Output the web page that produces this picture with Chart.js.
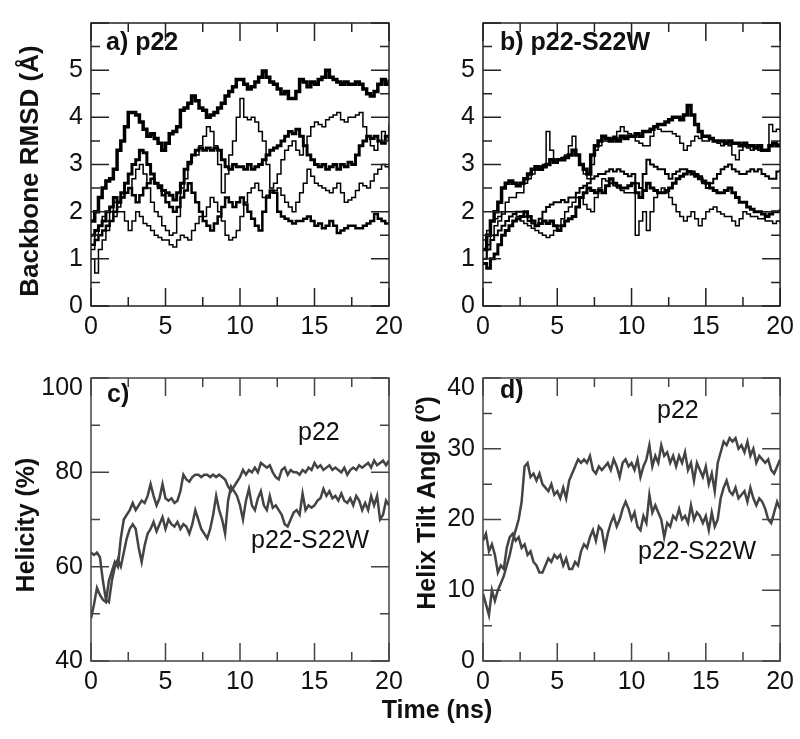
<!DOCTYPE html>
<html>
<head>
<meta charset="utf-8">
<script src="https://cdn.jsdelivr.net/npm/chart.js"></script>
<style>
  body { margin: 0; background: #fff; width: 800px; height: 739px; position: relative; overflow: hidden; }
  canvas { position: absolute; }
  #xtitle { position: absolute; left: 337px; width: 200px; top: 697px; text-align: center;
            font: bold 25px "Liberation Sans", Arial, sans-serif; line-height: 25px; color: #111; }
</style>
</head>
<body>
<canvas id="pa" width="410" height="345" style="left:0;top:0"></canvas>
<canvas id="pb" width="408" height="345" style="left:392px;top:0"></canvas>
<canvas id="pc" width="410" height="345" style="left:0;top:355px"></canvas>
<canvas id="pd" width="408" height="345" style="left:392px;top:355px"></canvas>
<div id="xtitle">Time (ns)</div>
<script>
// RMSD traces sampled every 0.25 ns, helicity / tilt every 0.2 ns
const rmsdStep = 0.25;
const angStep = 0.2;

// a) p22 backbone RMSD (Å), five runs
const rmsdA1 = [1.8, 2.0, 2.3, 2.5, 2.65, 2.7, 2.9, 3.3, 3.5, 3.8, 4.1, 4.1, 4.05, 3.9, 3.75, 3.6,
  3.65, 3.55, 3.45, 3.3, 3.45, 3.65, 3.7, 3.8, 4.15, 4.2, 4.3, 4.45, 4.35, 4.2, 4.15, 4.0,
  4.05, 4.1, 4.2, 4.3, 4.45, 4.55, 4.65, 4.8, 4.8, 4.7, 4.6, 4.65, 4.75, 4.85, 4.98, 4.85,
  4.75, 4.7, 4.6, 4.5, 4.55, 4.4, 4.4, 4.55, 4.8, 4.75, 4.65, 4.75, 4.7, 4.8, 4.85, 5.0,
  4.85, 4.8, 4.75, 4.7, 4.75, 4.7, 4.7, 4.75, 4.7, 4.6, 4.5, 4.45, 4.55, 4.7, 4.8, 4.7, 4.8];
const rmsdA2 = [1.5, 1.6, 1.7, 1.8, 2.0, 2.1, 2.3, 2.2, 2.4, 2.6, 2.8, 3.0, 3.1, 3.3, 3.25, 3.0,
  2.8, 2.6, 2.55, 2.45, 2.4, 2.35, 2.25, 2.4, 2.6, 2.9, 3.05, 3.2, 3.3, 3.35, 3.3, 3.35,
  3.3, 3.35, 3.3, 3.1, 2.95, 2.9, 3.0, 2.95, 2.95, 2.9, 3.0, 2.9, 2.95, 3.0, 3.1, 3.2,
  3.3, 3.35, 3.4, 3.5, 3.6, 3.7, 3.65, 3.75, 3.6, 3.4, 3.2, 3.1, 3.0, 2.95, 3.0, 2.9,
  2.95, 3.0, 2.9, 3.0, 2.95, 3.05, 3.0, 3.2, 3.4, 3.5, 3.6, 3.55, 3.6, 3.5, 3.45, 3.6, 3.5];
const rmsdA3 = [1.2, 1.5, 1.7, 1.9, 1.8, 2.0, 2.2, 2.1, 2.3, 2.4, 2.5, 2.7, 2.9, 3.0, 2.8, 2.5,
  2.2, 2.0, 1.9, 1.7, 1.6, 1.5, 1.55, 1.9, 2.5, 2.7, 3.0, 3.2, 3.2, 3.4, 3.6, 3.8,
  3.7, 3.4, 3.0, 2.4, 2.8, 3.2, 3.5, 4.0, 4.4, 4.0, 3.95, 4.0, 3.9, 3.7, 3.5, 3.0,
  2.5, 2.6, 2.8, 3.1, 3.3, 3.4, 3.5, 3.3, 3.2, 3.4, 3.6, 3.8, 3.9, 3.85, 3.8, 3.95,
  4.0, 4.05, 4.1, 3.95, 3.9, 4.0, 4.0, 4.05, 4.1, 3.8, 3.6, 3.4, 3.3, 3.5, 3.7, 3.6, 3.85];
const rmsdA4 = [1.3, 1.4, 1.5, 1.6, 1.7, 1.8, 2.0, 2.2, 2.3, 2.4, 2.5, 2.35, 2.2, 2.35, 2.5, 2.6,
  2.7, 2.6, 2.5, 2.35, 2.2, 2.1, 2.0, 2.1, 2.3, 2.45, 2.6, 2.4, 2.2, 2.0, 1.8, 1.7,
  1.6, 1.75, 1.9, 2.1, 2.3, 2.2, 2.1, 2.2, 2.3, 2.15, 2.0, 1.85, 1.7, 1.6, 2.0, 2.3,
  2.45, 2.4, 2.0, 1.9, 1.85, 1.8, 1.75, 1.8, 1.8, 1.85, 1.9, 1.8, 1.7, 1.75, 1.65, 1.7,
  1.8, 1.7, 1.55, 1.6, 1.65, 1.7, 1.7, 1.65, 1.65, 1.7, 1.75, 1.8, 1.95, 1.85, 1.8, 1.75, 1.75];
const rmsdA5 = [1.0, 0.7, 1.2, 1.4, 1.6, 1.8, 1.9, 2.0, 2.0, 1.8, 1.6, 1.8, 2.0, 1.9, 1.75, 1.7,
  1.6, 1.5, 1.45, 1.4, 1.4, 1.3, 1.25, 1.4, 1.5, 1.45, 1.4, 1.6, 1.75, 1.9, 1.9, 2.1,
  2.3, 2.2, 2.0, 1.8, 1.5, 1.4, 1.45, 1.6, 1.9, 2.2, 2.4, 2.5, 2.6, 2.45, 2.3, 2.35,
  2.4, 2.45, 2.5, 2.35, 2.2, 2.1, 2.0, 2.2, 2.4, 2.6, 2.9, 2.75, 2.6, 2.55, 2.5, 2.45,
  2.4, 2.5, 2.6, 2.4, 2.2, 2.25, 2.3, 2.45, 2.6, 2.55, 2.5, 2.65, 2.8, 2.9, 3.0, 2.95, 2.9];

// b) p22-S22W backbone RMSD (Å), five runs
const rmsdB1 = [1.2, 1.5, 1.8, 2.0, 2.2, 2.5, 2.6, 2.65, 2.6, 2.55, 2.6, 2.7, 2.8, 2.9, 2.95, 2.9,
  2.95, 3.0, 3.1, 3.05, 3.1, 3.1, 3.15, 3.2, 3.3, 3.2, 3.0, 2.9, 2.8, 3.2, 3.4, 3.5,
  3.6, 3.55, 3.5, 3.55, 3.5, 3.6, 3.55, 3.6, 3.6, 3.65, 3.6, 3.7, 3.7, 3.75, 3.8, 3.85,
  3.85, 3.9, 3.95, 4.0, 4.0, 3.95, 4.05, 4.25, 4.05, 3.85, 3.7, 3.6, 3.6, 3.55, 3.5, 3.5,
  3.5, 3.45, 3.5, 3.45, 3.45, 3.4, 3.45, 3.4, 3.4, 3.35, 3.4, 3.3, 3.3, 3.4, 3.45, 3.4, 3.45];
const rmsdB2 = [1.0, 1.3, 1.5, 1.7, 1.8, 2.0, 2.2, 2.3, 2.3, 2.4, 2.4, 2.6, 2.7, 2.8, 2.9, 2.95,
  3.0, 3.7, 3.3, 3.1, 3.1, 3.15, 3.2, 3.4, 3.6, 3.2, 3.0, 2.8, 2.7, 3.0, 3.3, 3.4,
  3.5, 3.5, 3.55, 3.6, 3.7, 3.8, 3.7, 3.65, 3.6, 3.5, 3.45, 3.4, 3.4, 3.6, 3.8, 3.75,
  3.7, 3.7, 3.7, 3.65, 3.6, 3.45, 3.3, 3.4, 3.5, 3.6, 3.55, 3.5, 3.5, 3.55, 3.5, 3.45,
  3.4, 3.45, 3.4, 3.2, 3.1, 3.3, 3.4, 3.35, 3.3, 3.35, 3.3, 3.3, 3.3, 3.85, 3.7, 3.75, 3.7];
const rmsdB3 = [1.0, 1.2, 1.4, 1.5, 1.6, 1.7, 1.8, 1.9, 1.95, 2.0, 2.0, 1.9, 1.8, 1.75, 1.7, 1.85,
  2.0, 2.1, 2.15, 2.2, 2.2, 2.25, 2.2, 2.3, 2.3, 2.4, 2.5, 2.55, 2.6, 2.7, 2.75, 2.8,
  2.8, 2.85, 2.9, 2.85, 2.9, 2.85, 2.8, 2.75, 2.8, 2.6, 2.5, 2.8, 3.1, 3.0, 2.95, 2.9,
  2.9, 2.8, 2.7, 2.8, 2.85, 2.9, 2.9, 2.85, 2.85, 2.8, 2.75, 2.6, 2.5, 2.6, 2.7, 2.8,
  2.9, 2.95, 3.0, 2.9, 2.85, 2.8, 2.8, 2.85, 2.9, 2.85, 2.9, 2.8, 2.75, 2.7, 2.7, 2.85, 2.9];
const rmsdB4 = [0.9, 0.8, 1.0, 1.1, 1.3, 1.5, 1.6, 1.7, 1.8, 1.85, 1.9, 2.0, 1.9, 1.8, 1.7, 1.75,
  1.8, 1.75, 1.8, 1.7, 1.6, 1.7, 1.8, 1.85, 1.9, 2.1, 2.3, 2.4, 2.5, 2.45, 2.4, 2.45,
  2.4, 2.55, 2.7, 2.6, 2.55, 2.5, 2.5, 2.55, 2.6, 2.4, 2.3, 2.45, 2.6, 2.5, 2.45, 2.4,
  2.4, 2.45, 2.5, 2.6, 2.7, 2.75, 2.8, 2.85, 2.8, 2.75, 2.7, 2.65, 2.6, 2.5, 2.45, 2.4,
  2.4, 2.45, 2.5, 2.4, 2.3, 2.2, 2.2, 2.1, 2.05, 2.0, 2.0, 1.95, 1.9, 1.95, 2.0, 2.0, 2.05];
const rmsdB5 = [1.4, 1.6, 1.8, 1.85, 1.9, 1.95, 2.0, 2.0, 2.0, 1.9, 1.8, 1.75, 1.7, 1.65, 1.6, 1.55,
  1.5, 1.45, 1.5, 1.6, 1.7, 1.85, 2.0, 2.1, 2.2, 2.3, 2.3, 2.15, 2.05, 2.0, 2.3, 2.5,
  2.7, 2.65, 2.6, 2.55, 2.5, 2.45, 2.4, 2.4, 2.4, 1.5, 1.8, 2.0, 1.6, 2.0, 2.3, 2.4,
  2.5, 2.4, 2.3, 2.15, 2.0, 1.9, 1.8, 1.9, 2.0, 1.85, 1.7, 1.85, 2.0, 2.05, 2.1, 2.0,
  1.95, 1.9, 1.9, 1.8, 1.7, 1.85, 2.0, 1.95, 1.9, 1.9, 1.85, 1.85, 1.8, 1.8, 1.75, 1.8, 1.75];

// c) helicity (%)
const helixP22 = [49, 52, 55.5, 54, 53, 52.5, 57, 59, 61, 60, 66, 70, 71, 72, 73.5,
  72, 73, 74, 73.5, 75, 77.5, 75, 73, 74.5, 77.5, 74.5, 74, 74.5, 73.5, 74,
  76, 79.5, 78.5, 78, 79, 79.5, 79.5, 79, 79.5, 79.5, 79, 79.5, 79, 79.5, 79,
  78.5, 77, 76, 77, 78, 79, 80.5, 79.5, 80.5, 80, 81, 80, 82, 81.5, 81,
  81.5, 80, 79, 78.5, 80.5, 81, 79.5, 80.5, 80, 80, 79.5, 80.5, 80, 81, 80.5,
  82, 81, 81.5, 80.5, 81, 81.5, 80.5, 81, 80.5, 80, 81, 79.5, 80.5, 81, 80.5,
  81.5, 81, 81.5, 82, 81, 82.5, 81.5, 82, 82.5, 81.5, 82.5];
const helixS22W = [63, 62.5, 63, 62, 57, 53, 52.5, 57, 60, 61.5, 60, 63, 66, 68, 69,
  68, 64, 61, 64.5, 67, 68, 69.5, 67.5, 69, 70.5, 68, 70, 69, 68.5, 69.5,
  68, 69, 68.5, 67, 69, 72, 70, 68, 67, 66, 68, 71, 75, 72, 70,
  67, 74, 77, 76, 75, 73, 70, 74, 76.5, 73, 72, 74.5, 76, 73, 72,
  75, 72.5, 73, 72, 71, 69, 68.5, 70, 71.5, 72, 71, 75.5, 72, 73, 72.5,
  73, 74, 74.5, 76.5, 75, 76, 74.5, 75, 74, 75.5, 74, 73.5, 74.5, 73, 75,
  74, 72, 73.5, 72, 75, 73, 75, 70, 71, 74, 73];

// d) helix tilt angle (degrees)
const tiltP22 = [9.5, 8, 6.5, 10, 8.5, 10, 11, 12, 13.5, 15, 17, 18.5, 20, 22.5, 27.5,
  28, 26, 26.5, 25.5, 26.5, 25, 24.5, 24, 25, 23.5, 24, 23, 24.5, 23, 25.5,
  26.5, 27.5, 28.5, 28, 28.5, 28, 29, 27, 26.5, 27.5, 27, 27.5, 28, 27, 28.5,
  27.5, 26, 28, 28.5, 27.5, 28, 27, 28.5, 26, 27.5, 28.5, 30.5, 27.5, 29, 28,
  30.5, 29, 29.5, 28, 29, 27.5, 29, 28, 29.5, 27, 28, 25.5, 28, 27, 26,
  27.5, 25, 26.5, 24, 28, 29.5, 31, 30.5, 31.5, 31, 31.5, 30, 30.5, 29.5, 31,
  29, 30, 28, 29, 28.5, 28, 28.5, 27, 26.5, 27.5, 28.5];
const tiltS22W = [17, 18, 15.5, 16.5, 15, 12.5, 13.5, 13, 16, 17.5, 18, 17, 17.5, 16, 16.5,
  15, 15.5, 14, 13.5, 12.5, 12.5, 13.5, 14.5, 14, 15, 14.5, 15, 13.5, 14.5, 13,
  13, 14, 13.5, 15.5, 16.5, 16, 17.5, 18.5, 17, 19, 18.5, 16, 18, 19.5, 20.5,
  19, 20, 21.5, 22.5, 21.5, 20, 21, 19, 18.5, 20.5, 19.5, 23.5, 21, 22, 21,
  20, 17.5, 19.5, 19, 20.5, 20, 21.5, 20, 20.5, 19.5, 22, 20, 21, 20.5, 19.5,
  20.5, 18.5, 21, 19, 20, 23, 24.5, 25.5, 24, 23.5, 24.5, 23, 23.5, 24, 22.5,
  24.5, 23, 22, 23, 22.5, 21.5, 20, 19.5, 21, 22.5, 21.5];

const FONT = '"Liberation Sans", Arial, sans-serif';
const INK = '#111';

function pts(vals, step) {
  return vals.map((v, i) => ({ x: i * step, y: v }));
}

function isMajor(v, major) {
  const r = v / major;
  return Math.abs(r - Math.round(r)) < 1e-6;
}

// box, inward ticks on all sides, titles and in-panel labels
const frame = {
  id: 'frame',
  afterDraw(chart, args, o) {
    const { ctx, chartArea: a, scales: { x, y } } = chart;
    ctx.save();
    ctx.strokeStyle = o.color;
    ctx.lineWidth = 1.5;
    ctx.strokeRect(a.left, a.top, a.right - a.left, a.bottom - a.top);
    ctx.beginPath();
    x.ticks.forEach(t => {
      const px = x.getPixelForValue(t.value);
      const len = isMajor(t.value, 5) ? 18 : 9;
      ctx.moveTo(px, a.bottom); ctx.lineTo(px, a.bottom - len);
      ctx.moveTo(px, a.top); ctx.lineTo(px, a.top + len);
    });
    y.ticks.forEach(t => {
      const py = y.getPixelForValue(t.value);
      const len = isMajor(t.value, o.yMajor) ? 18 : 9;
      ctx.moveTo(a.left, py); ctx.lineTo(a.left + len, py);
      ctx.moveTo(a.right, py); ctx.lineTo(a.right - len, py);
    });
    ctx.stroke();

    ctx.fillStyle = INK;
    if (o.topLabel) {
      ctx.font = '25px ' + FONT;
      ctx.textAlign = 'right';
      ctx.textBaseline = 'middle';
      ctx.fillText(o.topLabel, a.left - 8, a.top + 10);
    }

    // rotated y title, may contain a superscript part
    ctx.save();
    ctx.translate(o.titleX, o.titleY);
    ctx.rotate(-Math.PI / 2);
    ctx.textBaseline = 'middle';
    ctx.textAlign = 'left';
    let w = 0;
    o.title.forEach(p => { ctx.font = 'bold ' + p.size + 'px ' + FONT; w += ctx.measureText(p.text).width; });
    let cx = -w / 2;
    o.title.forEach(p => {
      ctx.font = 'bold ' + p.size + 'px ' + FONT;
      ctx.fillText(p.text, cx, -(p.rise || 0));
      cx += ctx.measureText(p.text).width;
    });
    ctx.restore();

    ctx.textAlign = 'left';
    ctx.textBaseline = 'alphabetic';
    o.notes.forEach(n => {
      ctx.font = (n.bold ? 'bold ' : '') + '25px ' + FONT;
      ctx.fillText(n.text, n.x, n.y);
    });
    ctx.restore();
  }
};

function scales(ymin, ymax, ystep, ymajor, hideTop) {
  const tickFont = { family: FONT, size: 25 };
  return {
    x: {
      type: 'linear', min: 0, max: 20,
      afterFit: s => { s.height = 39; },
      grid: { display: false, drawTicks: false },
      border: { display: false },
      ticks: {
        stepSize: 2.5, autoSkip: false, maxRotation: 0, padding: 6,
        font: tickFont, color: INK,
        callback: v => isMajor(v, 5) ? String(v) : ''
      }
    },
    y: {
      type: 'linear', min: ymin, max: ymax,
      afterFit: s => { s.width = 91; },
      grid: { display: false, drawTicks: false },
      border: { display: false },
      ticks: {
        stepSize: ystep, autoSkip: false, padding: 8,
        font: tickFont, color: INK,
        callback: v => (isMajor(v, ymajor) && v !== hideTop) ? String(v) : ''
      }
    }
  };
}

function rmsdSet(vals, width) {
  return { data: pts(vals, rmsdStep), borderColor: '#000', borderWidth: width, stepped: true,
           pointRadius: 0, fill: false };
}

function angSet(vals) {
  return { data: pts(vals, angStep), borderColor: '#444', borderWidth: 2.5, tension: 0,
           pointRadius: 0, fill: false, borderJoin: 'round' };
}

function makeChart(id, datasets, sc, rightPad, deco) {
  return new Chart(document.getElementById(id), {
    type: 'line',
    data: { datasets: datasets },
    options: {
      responsive: false,
      animation: false,
      devicePixelRatio: 1,
      layout: { padding: { top: 8, right: rightPad, left: 0, bottom: 0 }, autoPadding: false },
      scales: sc,
      plugins: { legend: { display: false }, tooltip: { enabled: false }, frame: deco }
    },
    plugins: [frame]
  });
}

makeChart('pa', [
  rmsdSet(rmsdA5, 1.5), rmsdSet(rmsdA3, 1.5), rmsdSet(rmsdA4, 2.5),
  rmsdSet(rmsdA2, 3), rmsdSet(rmsdA1, 3.5)
], scales(0, 6, 0.5, 1, 6), 21, {
  color: '#222', yMajor: 1,
  title: [{ text: 'Backbone RMSD (Å)', size: 26 }], titleX: 31, titleY: 171,
  notes: [{ text: 'a) p22', x: 106, y: 50, bold: true }]
});

makeChart('pb', [
  rmsdSet(rmsdB5, 1.5), rmsdSet(rmsdB2, 1.5), rmsdSet(rmsdB3, 2),
  rmsdSet(rmsdB4, 3), rmsdSet(rmsdB1, 3.5)
], scales(0, 6, 0.5, 1, 6), 19, {
  color: '#222', yMajor: 1,
  title: [], titleX: 0, titleY: 0,
  notes: [{ text: 'b) p22-S22W', x: 108, y: 50, bold: true }]
});

makeChart('pc', [angSet(helixP22), angSet(helixS22W)], scales(40, 100, 10, 20, 100), 21, {
  color: '#444', yMajor: 20, topLabel: '100',
  title: [{ text: 'Helicity (%)', size: 25 }], titleX: 27, titleY: 170,
  notes: [
    { text: 'c)', x: 107, y: 47, bold: true },
    { text: 'p22', x: 298, y: 85 },
    { text: 'p22-S22W', x: 251, y: 193 }
  ]
});

makeChart('pd', [angSet(tiltP22), angSet(tiltS22W)], scales(0, 40, 5, 10, 40), 19, {
  color: '#444', yMajor: 10, topLabel: '40',
  title: [{ text: 'Helix Tilt Angle (', size: 25 }, { text: 'o', size: 16, rise: 8 }, { text: ')', size: 25 }],
  titleX: 36, titleY: 148,
  notes: [
    { text: 'd)', x: 108, y: 43, bold: true },
    { text: 'p22', x: 265, y: 63 },
    { text: 'p22-S22W', x: 246, y: 204 }
  ]
});
</script>
</body>
</html>
